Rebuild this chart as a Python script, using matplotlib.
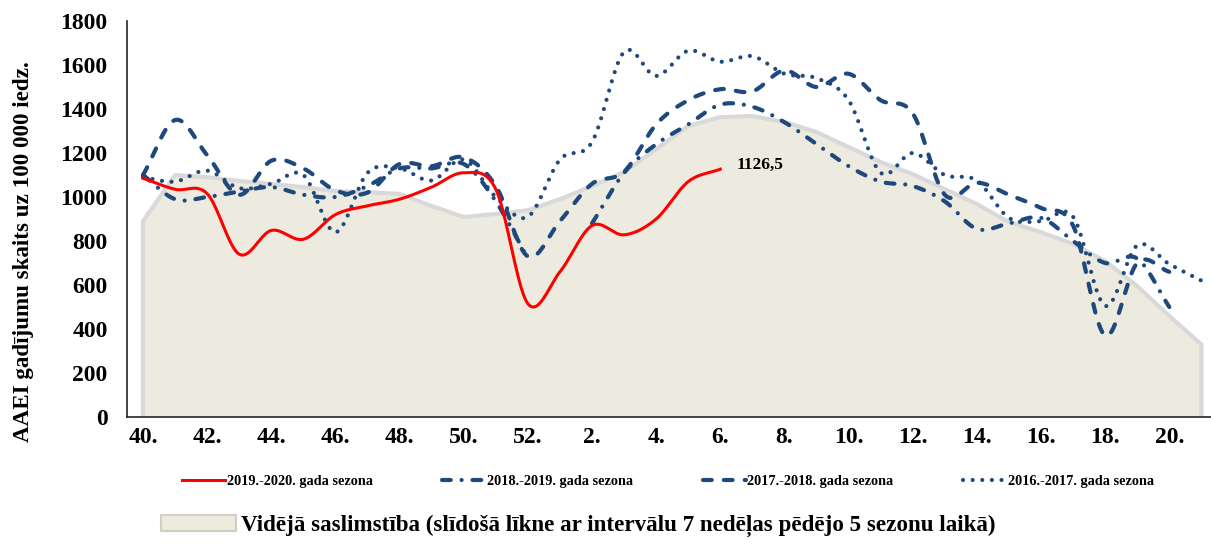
import numpy as np
import matplotlib.pyplot as plt
from matplotlib.patches import Patch

weeks = [str(w) + "." for w in list(range(40, 53)) + list(range(1, 22))]

avg_5 = [890, 1100, 1090, 1073, 1059, 1045, 1027, 1022, 1014, 959, 909, 923, 940,
         990, 1050, 1113, 1218, 1323, 1363, 1368, 1341, 1295, 1227, 1159, 1104, 1036,
         968, 886, 840, 786, 709, 595, 459, 330]

s_1920 = [1085, 1035, 1015, 740, 848, 808, 920, 960, 990, 1045, 1110, 1035, 515,
          660, 870, 828, 900, 1070, 1126.5] + [None] * 15

s_1819 = [1100, 990, 1000, 1025, 1045, 1010, 1000, 1050, 1130, 1130, 1150, 980, 720,
          None, 880, 1110, 1240, 1330, 1420, 1410, 1340, 1240, 1140, 1070, 1050, 980,
          855, 880, 905, 800, 700, 720, 500, None]

s_1718 = [1100, 1350, 1190, 1010, 1165, 1130, 1030, 1020, 1150, 1140, 1180, 1050, 730,
          890, 1060, 1115, 1330, 1440, 1490, 1480, 1575, 1500, 1560, 1440, 1380, 1010,
          1065, 1010, 950, 870, 370, 700, 660, None]

s_1617 = [1090, 1070, 1120, 1040, 1060, 1100, 840, 1110, 1130, 1075, 1170, 1000, 910,
          1170, 1250, 1660, 1550, 1665, 1615, 1640, 1560, 1540, 1440, 1110, 1200, 1100,
          1075, 905, 890, 910, 505, 780, 695, 620]

last_label = "1126,5"

BLUE = "#1F497D"
SERIF = "Liberation Serif"


def smooth(vals, n=20):
    # Excel-like smoothed line (Catmull-Rom), broken at missing values
    parts = []
    seg = []
    for i, v in enumerate(vals):
        if v is None:
            if seg:
                parts.append(seg)
            seg = []
        else:
            seg.append((i, v))
    if seg:
        parts.append(seg)
    out = []
    for seg in parts:
        x = np.array([p[0] for p in seg], float)
        y = np.array([p[1] for p in seg], float)
        if len(x) < 2:
            out.append((x, y))
            continue
        m = np.empty_like(y)
        m[1:-1] = (y[2:] - y[:-2]) / 2
        m[0] = y[1] - y[0]
        m[-1] = y[-1] - y[-2]
        xs, ys = [], []
        t = np.linspace(0, 1, n, endpoint=False)
        for k in range(len(x) - 1):
            h00 = 2 * t**3 - 3 * t**2 + 1
            h10 = t**3 - 2 * t**2 + t
            h01 = -2 * t**3 + 3 * t**2
            h11 = t**3 - t**2
            xs.append(x[k] + t)
            ys.append(h00 * y[k] + h10 * m[k] + h01 * y[k + 1] + h11 * m[k + 1])
        xs.append([x[-1]])
        ys.append([y[-1]])
        out.append((np.concatenate(xs), np.concatenate(ys)))
    return out


fig = plt.figure(figsize=(12.11, 5.44), dpi=100)
ax = fig.add_axes([127 / 1211, 1 - 417 / 544, 1 - 127 / 1211, (417 - 21) / 544])

xi = np.arange(len(weeks))
ax.fill_between(xi, avg_5, 0, facecolor="#EDEADF", edgecolor="none", zorder=1)
ax.plot(np.r_[xi[0], xi, xi[-1]], np.r_[0, avg_5, 0], color="#D9D9D9", lw=3,
        solid_joinstyle="miter", zorder=2)

styles = [
    (s_1819, "2018.-2019. gada sezona", (0, (2.1, 2.6, 0.01, 2.6))),
    (s_1718, "2017.-2018. gada sezona", (0, (2.1, 2.9))),
    (s_1617, "2016.-2017. gada sezona", (0, (0.01, 2.3))),
]

handles = []
for i, (sx, sy) in enumerate(smooth(s_1920)):
    h, = ax.plot(sx, sy, color="#FF0000", lw=2.2, zorder=5,
                 label="2019.-2020. gada sezona" if i == 0 else None)
    if i == 0:
        handles.append(h)

for vals, lab, ls in styles:
    for i, (sx, sy) in enumerate(smooth(vals)):
        h, = ax.plot(sx, sy, color=BLUE, lw=3.0, linestyle=ls,
                     dash_capstyle="round", zorder=4,
                     label=lab if i == 0 else None)
        if i == 0:
            handles.append(h)

ax.annotate(last_label, (18, s_1920[18]), xytext=(12, 3), textcoords="offset points",
            fontsize=12.5, fontweight="bold", family=SERIF, va="center", ha="left")

ax.set_xlim(-0.5, 33.3)
ax.set_ylim(0, 1800)
ax.set_yticks(range(0, 1801, 200))
ax.set_xticks(xi[::2])
ax.set_xticklabels(weeks[::2])
ax.tick_params(length=0)
ax.tick_params(axis="y", pad=14)
ax.tick_params(axis="x", pad=7)
for lab in ax.get_xticklabels() + ax.get_yticklabels():
    lab.set_family(SERIF)
    lab.set_fontweight("bold")
    lab.set_fontsize(17)
for s in ["top", "right"]:
    ax.spines[s].set_visible(False)
for s in ["left", "bottom"]:
    ax.spines[s].set_color("#262626")
    ax.spines[s].set_linewidth(1.2)

fig.text(24 / 1211, 1 - 252 / 544, "AAEI gadījumu skaits uz 100 000 iedz.",
         rotation=90, ha="center", va="center", family=SERIF,
         fontweight="bold", fontsize=16.6)

fig.legend(handles=handles, loc="center", bbox_to_anchor=(668 / 1211, 1 - 481 / 544),
           ncol=4, frameon=False, handlelength=3.0, handletextpad=0.1,
           columnspacing=4.9, prop={"family": SERIF, "weight": "bold", "size": 10.3})

area_patch = Patch(facecolor="#EDEADF", edgecolor="#D0CFC6", lw=1.5,
                   label="Vidējā saslimstība (slīdošā līkne ar intervālu 7 nedēļas pēdējo 5 sezonu laikā)")
fig.legend(handles=[area_patch], loc="center", bbox_to_anchor=(578 / 1211, 1 - 526 / 544),
           frameon=False, handlelength=3.26, handleheight=0.7, handletextpad=0.2,
           prop={"family": SERIF, "weight": "bold", "size": 16.6})

fig.savefig("out.png", dpi=100)
